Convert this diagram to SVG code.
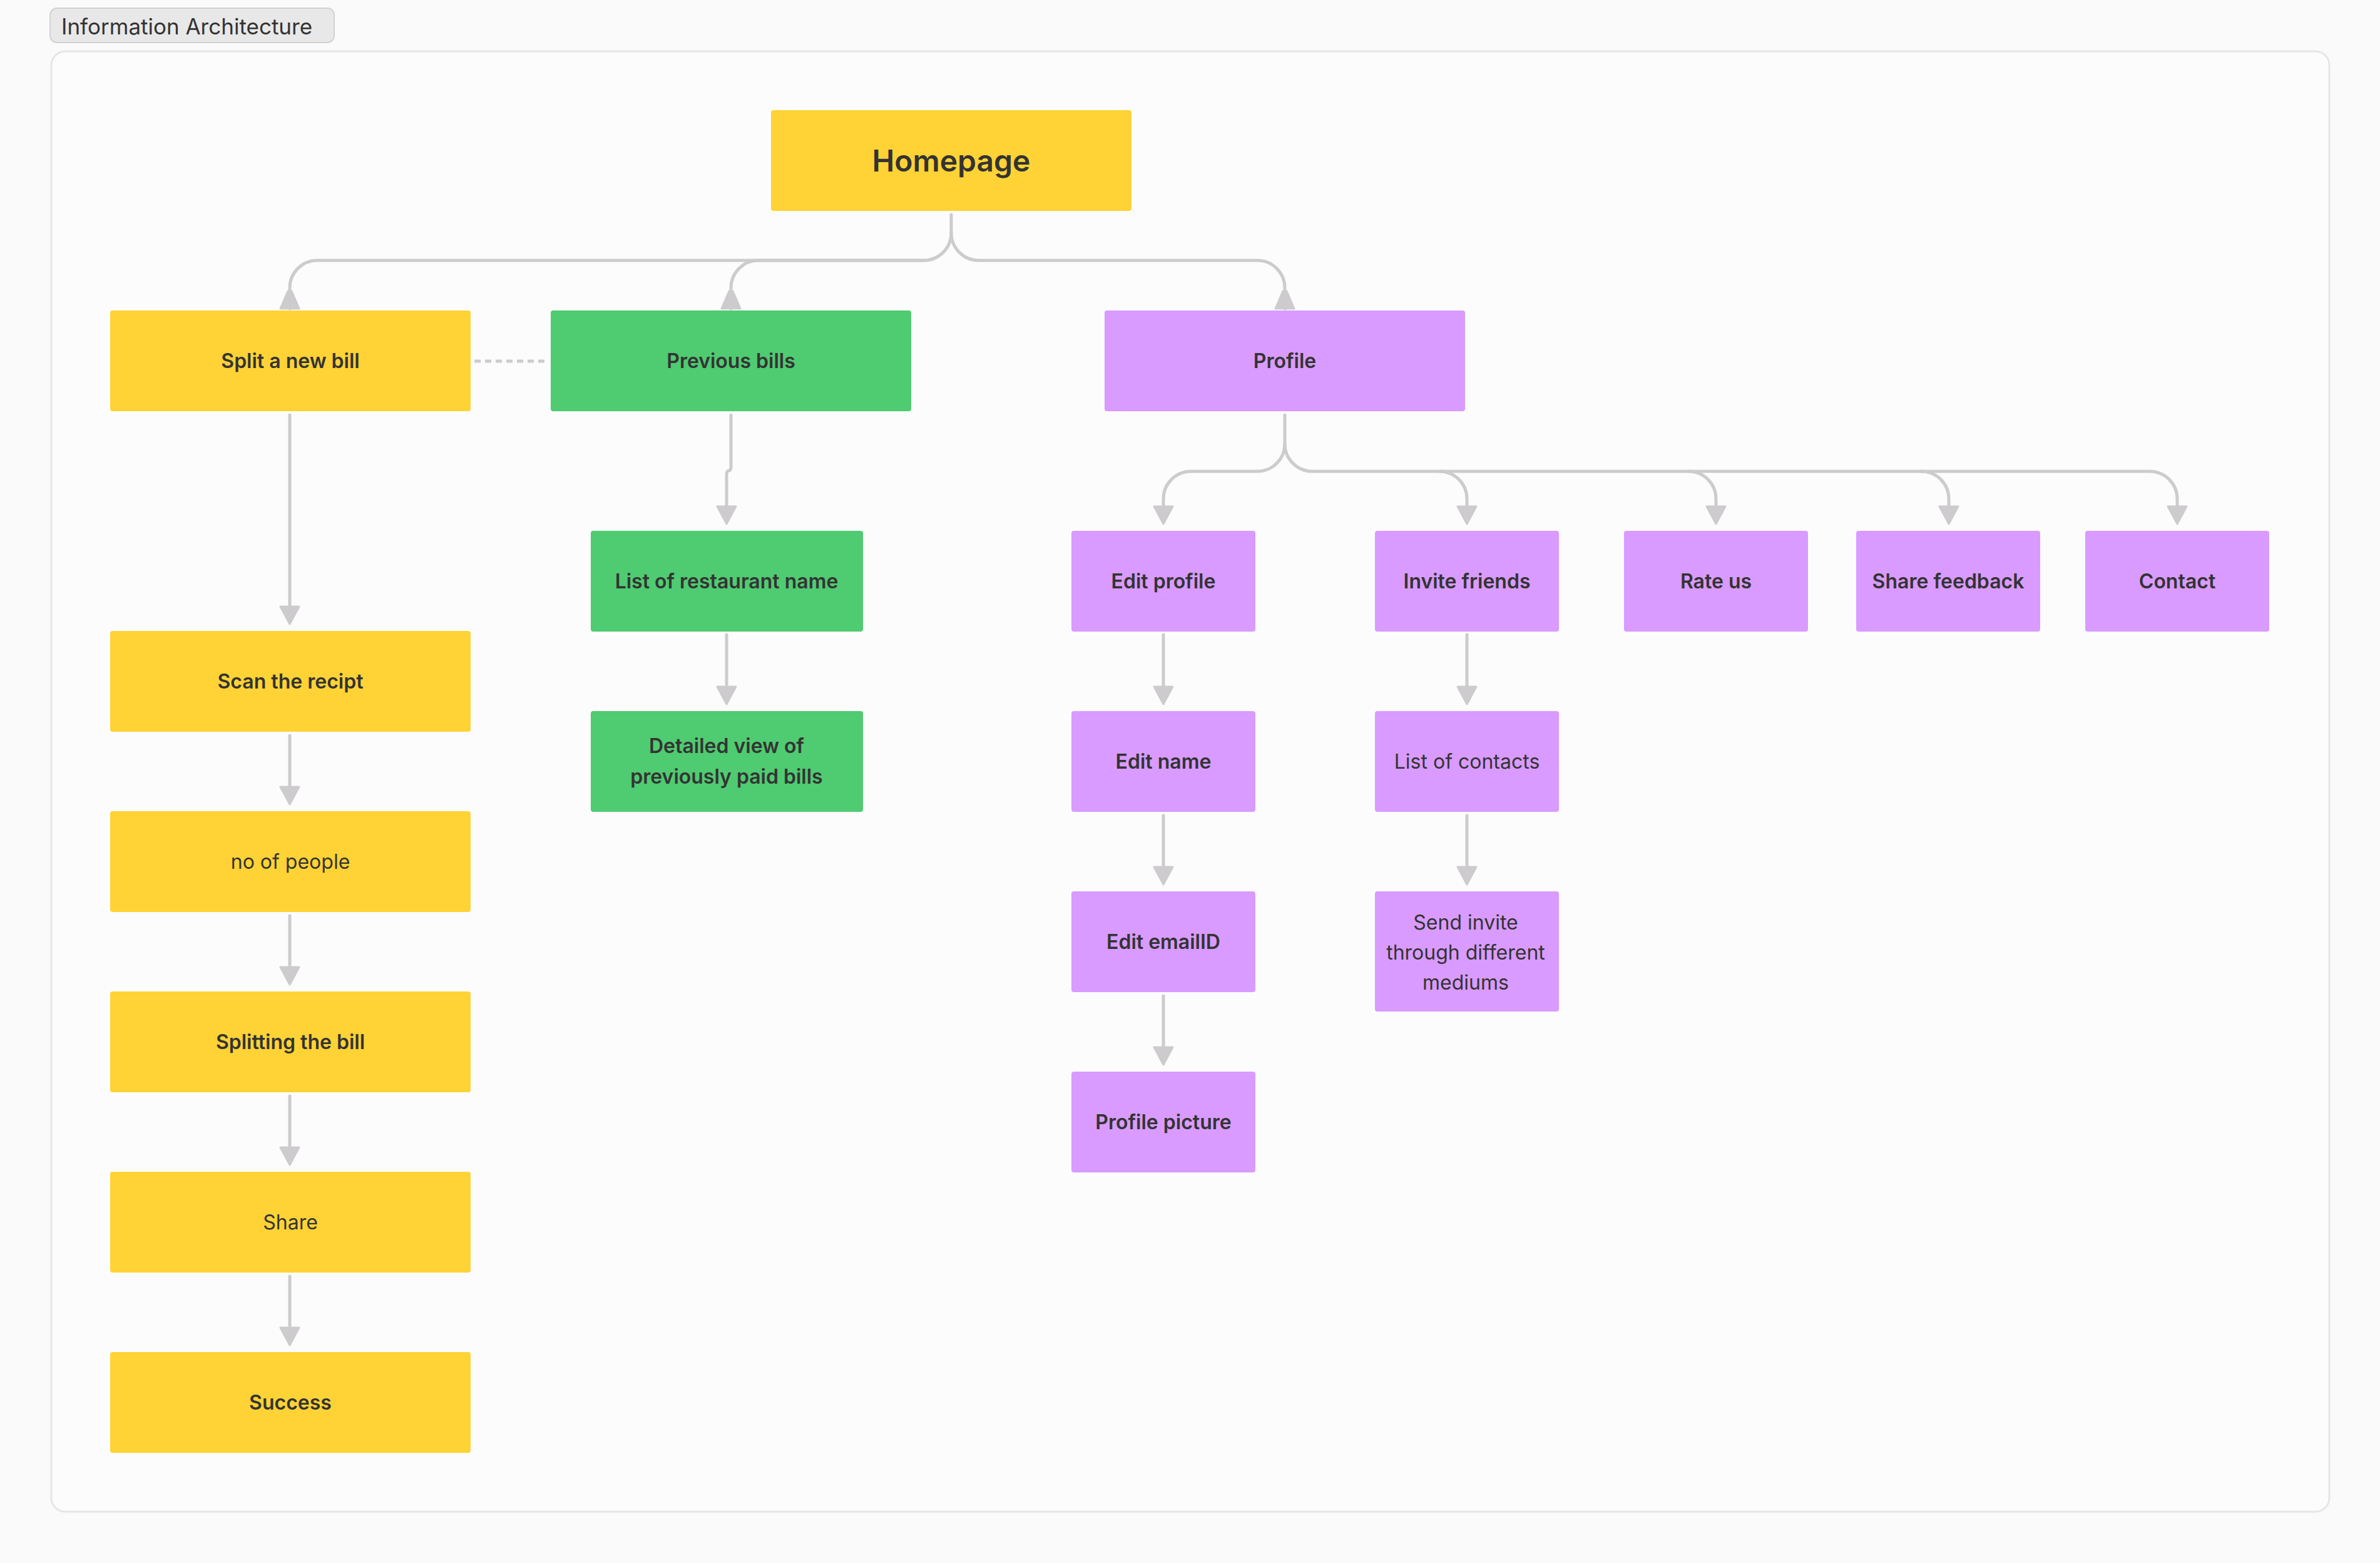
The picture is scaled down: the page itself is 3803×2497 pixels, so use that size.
<svg xmlns="http://www.w3.org/2000/svg" width="3803" height="2497" viewBox="0 0 3803 2497">
<style>
  .t{font-family:Inter,"Noto Sans","Liberation Sans",sans-serif;fill:#333333;text-anchor:middle;font-size:32px}
  .b{font-weight:600}
  .r{font-weight:400}
  .y{fill:#FFD335}
  .g{fill:#4FCB71}
  .p{fill:#D99BFF}
  .c{fill:none;stroke:#CDCBCD;stroke-width:5;stroke-linecap:round;stroke-linejoin:round}
</style>
<defs>
  <marker id="ah" markerUnits="userSpaceOnUse" markerWidth="40" markerHeight="40" viewBox="-4 -20 40 40" refX="18" refY="0" orient="auto" overflow="visible">
    <path d="M0,-15 L28,0 L0,15 Z" fill="#CDCBCD" stroke="#CDCBCD" stroke-width="3" stroke-linejoin="round"/>
  </marker>
  <marker id="rh" markerUnits="userSpaceOnUse" markerWidth="40" markerHeight="40" viewBox="-4 -20 40 40" refX="28" refY="0" orient="auto" overflow="visible">
    <path d="M0,-3 L28,-15 L28,15 L0,3 Z" fill="#CDCBCD" stroke="#CDCBCD" stroke-width="3" stroke-linejoin="round"/>
  </marker>
</defs>
<rect x="0" y="0" width="3803" height="2497" fill="#FAFAFA"/>
<g id="section">
  <rect x="82" y="82" width="3640" height="2333" rx="22" fill="#FCFCFC" stroke="#E6E6E6" stroke-width="3"/>
  <rect x="80" y="13" width="454" height="55" rx="11" fill="#E8E8E8" stroke="#D2D2D2" stroke-width="2"/>
  <text x="98" y="55" style="font-family:Inter,'Noto Sans','Liberation Sans',sans-serif;font-size:35px;fill:#333333">Information Architecture</text>
</g>
<g id="connectors">
  <path class="c" d="M1520,343 V372 A44,44 0 0 1 1476,416 H507 A44,44 0 0 0 463,460 V493" marker-end="url(#rh)"/>
  <path class="c" d="M1476,416 H1212 A44,44 0 0 0 1168,460 V493" marker-end="url(#rh)"/>
  <path class="c" d="M1520,372 A44,44 0 0 0 1564,416 H2009 A44,44 0 0 1 2053,460 V493" marker-end="url(#rh)"/>
  <path d="M758,577 H873" fill="none" stroke="#CDCBCD" stroke-width="5" stroke-dasharray="10 7"/>
  <path class="c" d="M463,663 V987" marker-end="url(#ah)"/>
  <path class="c" d="M463,1175 V1275" marker-end="url(#ah)"/>
  <path class="c" d="M463,1463 V1563" marker-end="url(#ah)"/>
  <path class="c" d="M463,1751 V1851" marker-end="url(#ah)"/>
  <path class="c" d="M463,2039 V2139" marker-end="url(#ah)"/>
  <path class="c" d="M1168,663 V745 Q1168,752 1164.5,752 Q1161,752 1161,759 V827" marker-end="url(#ah)"/>
  <path class="c" d="M1161,1014 V1115" marker-end="url(#ah)"/>
  <path class="c" d="M2053,663 V709 A44,44 0 0 1 2009,753 H1903 A44,44 0 0 0 1859,797 V827" marker-end="url(#ah)"/>
  <path class="c" d="M2053,709 A44,44 0 0 0 2097,753 H3435 A44,44 0 0 1 3479,797 V827" marker-end="url(#ah)"/>
  <path class="c" d="M2300,753 A44,44 0 0 1 2344,797 V827" marker-end="url(#ah)"/>
  <path class="c" d="M2698,753 A44,44 0 0 1 2742,797 V827" marker-end="url(#ah)"/>
  <path class="c" d="M3070,753 A44,44 0 0 1 3114,797 V827" marker-end="url(#ah)"/>
  <path class="c" d="M1859,1014 V1115" marker-end="url(#ah)"/>
  <path class="c" d="M1859,1303 V1403" marker-end="url(#ah)"/>
  <path class="c" d="M1859,1591 V1691" marker-end="url(#ah)"/>
  <path class="c" d="M2344,1014 V1115" marker-end="url(#ah)"/>
  <path class="c" d="M2344,1303 V1403" marker-end="url(#ah)"/>
</g>
<g id="homepage"><rect class="y" x="1232" y="176" width="576" height="161" rx="4"/><text class="t b" x="1520" y="274" style="font-size:48px">Homepage</text></g>
<g id="split-new-bill"><rect class="y" x="176" y="496" width="576" height="161" rx="4"/><text class="t b" x="464" y="588">Split a new bill</text></g>
<g id="previous-bills"><rect class="g" x="880" y="496" width="576" height="161" rx="4"/><text class="t b" x="1168" y="588">Previous bills</text></g>
<g id="profile"><rect class="p" x="1765" y="496" width="576" height="161" rx="4"/><text class="t b" x="2053" y="588">Profile</text></g>
<g id="list-restaurant"><rect class="g" x="944" y="848" width="435" height="161" rx="4"/><text class="t b" x="1161" y="940">List of restaurant name</text></g>
<g id="detailed-view"><rect class="g" x="944" y="1136" width="435" height="161" rx="4"/><text class="t b" x="1161" y="1203">Detailed view of</text><text class="t b" x="1161" y="1252">previously paid bills</text></g>
<g id="scan-recipt"><rect class="y" x="176" y="1008" width="576" height="161" rx="4"/><text class="t b" x="464" y="1100">Scan the recipt</text></g>
<g id="no-of-people"><rect class="y" x="176" y="1296" width="576" height="161" rx="4"/><text class="t r" x="464" y="1388">no of people</text></g>
<g id="splitting-bill"><rect class="y" x="176" y="1584" width="576" height="161" rx="4"/><text class="t b" x="464" y="1676">Splitting the bill</text></g>
<g id="share"><rect class="y" x="176" y="1872" width="576" height="161" rx="4"/><text class="t r" x="464" y="1964">Share</text></g>
<g id="success"><rect class="y" x="176" y="2160" width="576" height="161" rx="4"/><text class="t b" x="464" y="2252">Success</text></g>
<g id="edit-profile"><rect class="p" x="1712" y="848" width="294" height="161" rx="4"/><text class="t b" x="1859" y="940">Edit profile</text></g>
<g id="invite-friends"><rect class="p" x="2197" y="848" width="294" height="161" rx="4"/><text class="t b" x="2344" y="940">Invite friends</text></g>
<g id="rate-us"><rect class="p" x="2595" y="848" width="294" height="161" rx="4"/><text class="t b" x="2742" y="940">Rate us</text></g>
<g id="share-feedback"><rect class="p" x="2966" y="848" width="294" height="161" rx="4"/><text class="t b" x="3113" y="940">Share feedback</text></g>
<g id="contact"><rect class="p" x="3332" y="848" width="294" height="161" rx="4"/><text class="t b" x="3479" y="940">Contact</text></g>
<g id="edit-name"><rect class="p" x="1712" y="1136" width="294" height="161" rx="4"/><text class="t b" x="1859" y="1228">Edit name</text></g>
<g id="edit-email"><rect class="p" x="1712" y="1424" width="294" height="161" rx="4"/><text class="t b" x="1859" y="1516">Edit emailID</text></g>
<g id="profile-picture"><rect class="p" x="1712" y="1712" width="294" height="161" rx="4"/><text class="t b" x="1859" y="1804">Profile picture</text></g>
<g id="list-contacts"><rect class="p" x="2197" y="1136" width="294" height="161" rx="4"/><text class="t r" x="2344" y="1228">List of contacts</text></g>
<g id="send-invite"><rect class="p" x="2197" y="1424" width="294" height="192" rx="4"/><text class="t r" x="2342" y="1485">Send invite</text><text class="t r" x="2342" y="1533">through different</text><text class="t r" x="2342" y="1581">mediums</text></g>
</svg>
